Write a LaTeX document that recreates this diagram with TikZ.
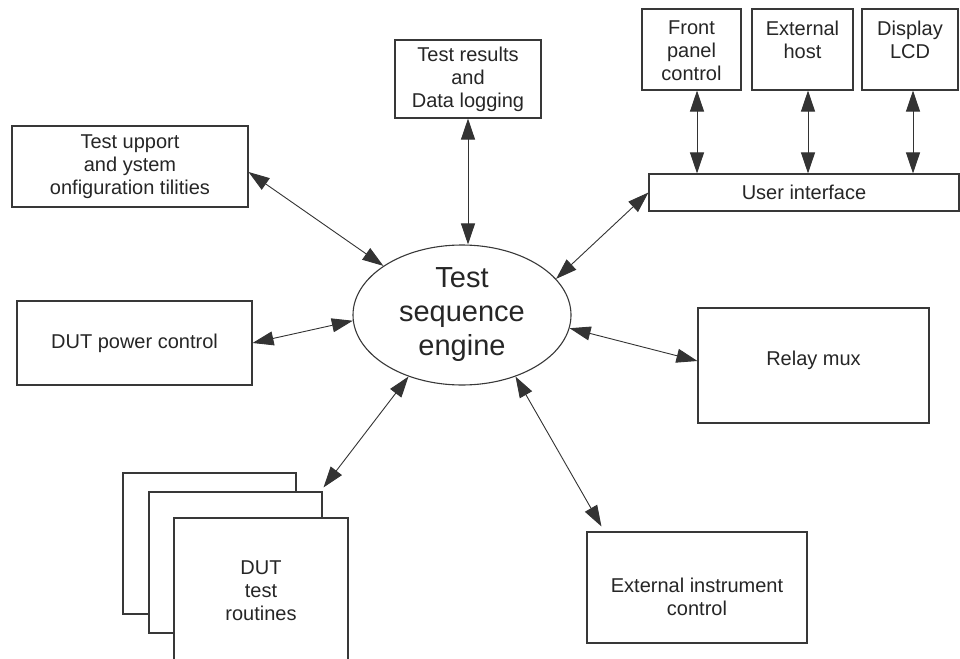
\documentclass[tikz,border=0pt]{standalone}
\usepackage{fontspec}
\setmainfont{Liberation Sans}
\usetikzlibrary{shapes.geometric,arrows.meta,calc}
\begin{document}
\begin{tikzpicture}[x=1pt,y=-1pt,
 box/.style={draw=black!78,line width=1.1pt,fill=white,inner sep=0pt,align=center,font=\fontsize{20}{23}\selectfont,text=black!85},
 lbl/.style={inner sep=0pt,align=center,font=\fontsize{20}{23}\selectfont,text=black!85},
 link/.style={draw=black!80,line width=0.9pt,{Triangle[length=21pt,width=14pt]}-{Triangle[length=21pt,width=14pt]}}]
\useasboundingbox (0,0) rectangle (960,658);
\clip (0,0) rectangle (960,658);

\node[box,minimum width=236pt,minimum height=81pt] (supp) at (130,166.5) {Test upport\\and ystem\\onfiguration tilities};
\node[box,minimum width=146pt,minimum height=78pt] (res) at (468,79) {Test results\\and\\Data logging};

\node[box,minimum width=99pt,minimum height=81pt] (front) at (691.5,49.5) {};
\node[box,minimum width=101pt,minimum height=81pt] (host) at (802.5,49.5) {};
\node[box,minimum width=96pt,minimum height=81pt] (lcd) at (910,49.5) {};
\node[lbl,anchor=north] (frontt) at ([yshift=-12pt]front.north) {Front\\panel\\control};
\node[lbl,anchor=north] (hostt) at ([yshift=-12pt]host.north) {External\\host};
\node[lbl,anchor=north] (lcdt) at ([yshift=-12pt]lcd.north) {Display\\LCD};

\node[box,minimum width=310pt,minimum height=37pt] (ui) at (804,192.5) {User interface};

\node[box,minimum width=235pt,minimum height=84pt] (pwr) at (134.5,343) {DUT power control};

\node[box,minimum width=231pt,minimum height=115pt] (relay) at (813.5,365.5) {};
\node[lbl] (relayt) at (813.5,360) {Relay mux};

\node[box,minimum width=220pt,minimum height=111pt] (instr) at (697,587.5) {};
\node[lbl] (instrt) at (697,597) {External instrument\\control};

\node[box,minimum width=173pt,minimum height=141pt] (dut1) at (209.5,543.5) {};
\node[box,minimum width=173pt,minimum height=141pt] (dut2) at (235.5,562.5) {};
\node[box,minimum width=174pt,minimum height=145pt] (dut3) at (261,590.5) {DUT\\test\\routines};

\node[draw=black!78,line width=1.1pt,ellipse,minimum width=218pt,minimum height=140pt,inner sep=0pt,align=center,font=\fontsize{29}{34}\selectfont,text=black!85] (eng) at (462,315) {Test\\sequence\\engine};

\draw[link] ([yshift=-5.5pt]supp.east) -- (eng.148);
\draw[link] (res.south) -- (res.south |- eng.north);
\draw[link] (ui.west) -- (eng.21);
\draw[link] (pwr.east) -- (eng.183);
\draw[link] (eng.-7) -- ([yshift=4.5pt]relay.west);
\draw[link] (eng.-49) -- ([xshift=15pt,yshift=5pt]instr.north west);
\draw[link] (eng.-131) -- ([xshift=1pt,yshift=4pt]dut2.north east);

\draw[link] ([xshift=5.5pt]front.south) -- ([xshift=5.5pt]front.south |- ui.north);
\draw[link] ([xshift=5.5pt]host.south) -- ([xshift=5.5pt]host.south |- ui.north);
\draw[link] ([xshift=3pt]lcd.south) -- ([xshift=3pt]lcd.south |- ui.north);
\end{tikzpicture}
\end{document}
